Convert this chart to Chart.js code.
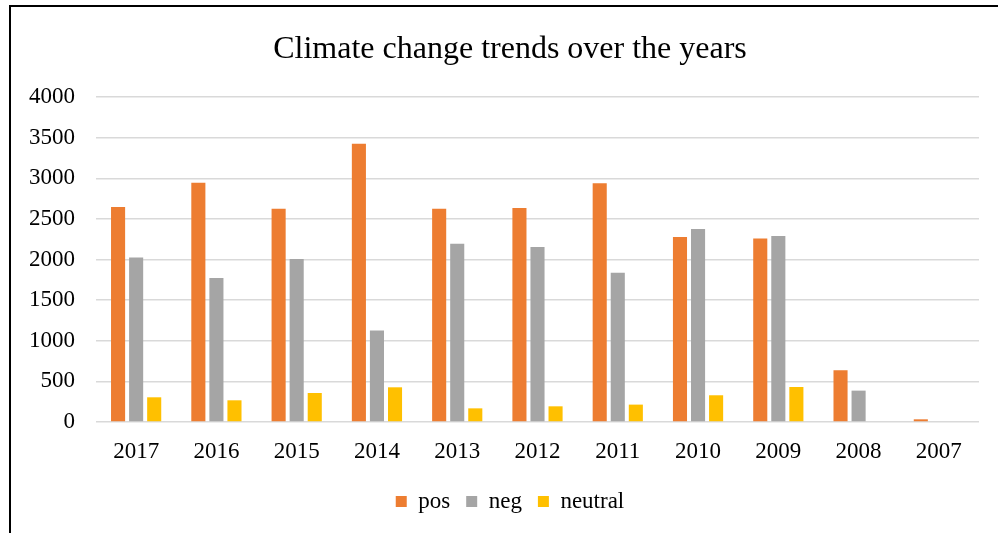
<!DOCTYPE html>
<html>
<head>
<meta charset="utf-8">
<script src="https://cdn.jsdelivr.net/npm/chart.js@4.4.1/dist/chart.umd.min.js"></script>
<style>
  html, body { margin: 0; padding: 0; background: #fff; overflow: hidden; }
  #wrap { position: relative; width: 998px; height: 533px; }
  #frame { position: absolute; left: 9px; top: 5px; width: 1000px; height: 540px;
           border-left: 2px solid #000; border-top: 2px solid #000; }
  canvas { position: absolute; left: 0; top: 0; }
</style>
</head>
<body>
<div id="wrap">
  <div id="frame"></div>
  <canvas id="c" width="998" height="533"></canvas>
</div>
<script>
const years = ['2017', '2016', '2015', '2014', '2013', '2012', '2011', '2010', '2009', '2008', '2007'];
const posCounts = [2646, 2945, 2625, 3426, 2625, 2633, 2937, 2276, 2259, 637, 33];
const negCounts = [2025, 1771, 2005, 1126, 2194, 2153, 1836, 2374, 2288, 386, 0];
const neutralCounts = [304, 267, 357, 427, 168, 193, 214, 329, 431, 0, 0];
const yTicks = [0, 500, 1000, 1500, 2000, 2500, 3000, 3500, 4000];

const serif = "'Liberation Serif', 'Times New Roman', serif";
const textColor = '#000000';

// Centre the title and legend over the frame rather than over the whole canvas
const frameCentering = {
  id: 'frameCentering',
  afterLayout(chart) {
    chart.titleBlock.left += 41;
    chart.legend.left += 41;
  }
};

new Chart(document.getElementById('c'), {
  type: 'bar',
  data: {
    labels: years,
    datasets: [
      { label: 'pos', data: posCounts, backgroundColor: '#ED7D31' },
      { label: 'neg', data: negCounts, backgroundColor: '#A5A5A5' },
      { label: 'neutral', data: neutralCounts, backgroundColor: '#FFC000' }
    ]
  },
  plugins: [frameCentering],
  options: {
    responsive: false,
    animation: false,
    devicePixelRatio: 1,
    datasets: { bar: { categoryPercentage: 0.675, barPercentage: 0.78 } },
    layout: { padding: { left: 0, right: 19, top: 0, bottom: 10 } },
    plugins: {
      tooltip: { enabled: false },
      title: {
        display: true,
        text: 'Climate change trends over the years',
        color: textColor,
        font: { family: serif, size: 32, weight: 'normal' },
        padding: { top: 30, bottom: 28.6 }
      },
      legend: {
        position: 'bottom',
        labels: {
          color: textColor,
          font: { family: serif, size: 23 },
          boxWidth: 11,
          boxHeight: 11,
          padding: 16
        }
      }
    },
    scales: {
      x: {
        grid: { display: false, drawTicks: false },
        border: { display: false },
        ticks: { color: textColor, font: { family: serif, size: 23 }, padding: 16, maxRotation: 0 },
        afterFit: s => { s.height = 52; }
      },
      y: {
        min: 0,
        max: 4000,
        afterBuildTicks: s => { s.ticks = yTicks.map(v => ({ value: v })); },
        grid: { color: '#D9D9D9', lineWidth: 1.5, drawTicks: false },
        border: { display: false },
        ticks: { color: textColor, font: { family: serif, size: 23 }, padding: 21, callback: v => String(v) },
        afterFit: s => { s.width = 96; }
      }
    }
  }
});
</script>
</body>
</html>
